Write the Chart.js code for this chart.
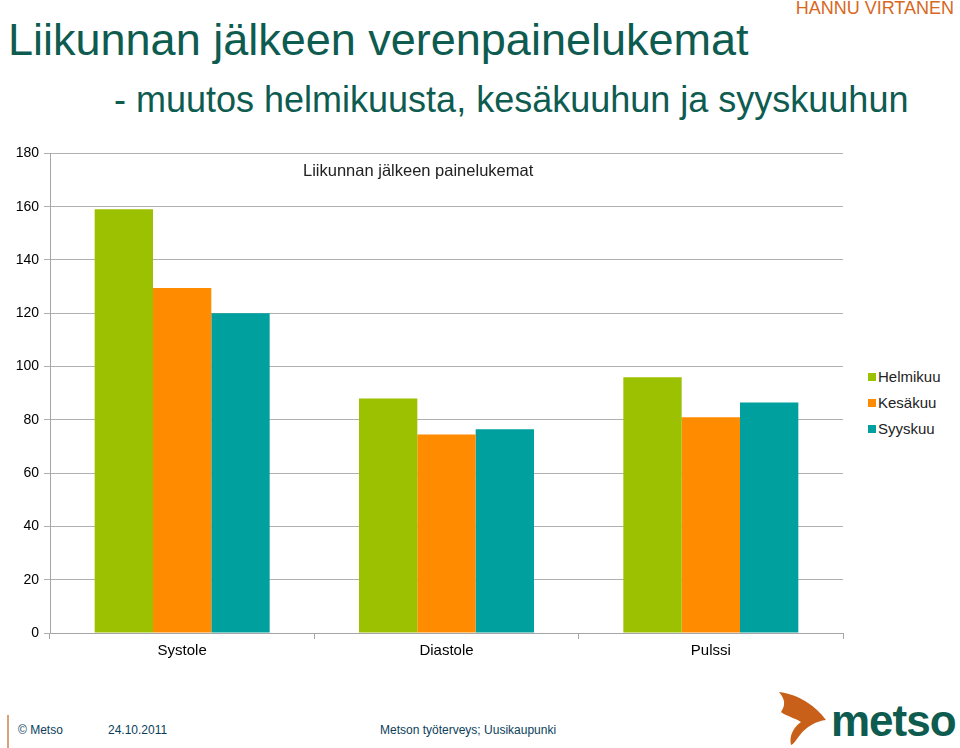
<!DOCTYPE html>
<html>
<head>
<meta charset="utf-8">
<script src="https://cdn.jsdelivr.net/npm/chart.js@4"></script>
<style>
  body { margin: 0; background: #fff; font-family: "Liberation Sans", Arial, sans-serif; }
  #page { position: relative; width: 960px; height: 748px; overflow: hidden; }
  .abs { position: absolute; white-space: nowrap; }
  #title { left: 8px; top: 14px; font-size: 45px; color: #0e5b50; }
  #subtitle { left: 114px; top: 79px; font-size: 36px; color: #0e5b50; }
  #author { right: 6px; top: -2px; font-size: 18px; color: #d8681e; }
  #chartTitle { left: 303px; top: 161px; font-size: 16.5px; color: #222; }
  #chart { position: absolute; left: 0; top: 140px; }
  #legend { left: 868px; top: 367px; font-size: 15px; color: #222; }
  #legend div { height: 26px; line-height: 20px; }
  #legend span.box { display: inline-block; width: 8px; height: 8px; margin-right: 2px; vertical-align: 1px; }
  .foot { top: 723px; font-size: 12px; color: #0b3e5a; }
  #footline { left: 7px; top: 715px; width: 2px; height: 33px; background: #d9a07c; }
  #logoText { left: 831px; top: 696px; font-size: 44px; font-weight: bold; color: #0e5b50; letter-spacing: -1px; }
</style>
</head>
<body>
<div id="page">
  <div id="title" class="abs">Liikunnan jälkeen verenpainelukemat</div>
  <div id="subtitle" class="abs">- muutos helmikuusta, kesäkuuhun ja syyskuuhun</div>
  <div id="author" class="abs">HANNU VIRTANEN</div>
  <canvas id="chart" width="850" height="530"></canvas>
  <div id="chartTitle" class="abs">Liikunnan jälkeen painelukemat</div>
  <div id="legend" class="abs"></div>
  <div id="footline" class="abs"></div>
  <div class="abs foot" style="left:18px">© Metso</div>
  <div class="abs foot" style="left:108px">24.10.2011</div>
  <div class="abs foot" style="left:380px">Metson työterveys; Uusikaupunki</div>
  <svg class="abs" style="left:776px;top:690px" width="54" height="56" viewBox="0 0 54 56">
    <path d="M3 2 C22 4 40 16 50 30 C40 31 30 37 24 45 C20 50 18 54 15 55 C13 46 17 38 25 32 C19 28 10 26 5 22 C9 16 10 10 3 2 Z" fill="#c8601a"/>
  </svg>
  <div id="logoText" class="abs">metso</div>
</div>
<script>
const categories = ["Systole", "Diastole", "Pulssi"];
const seriesNames = ["Helmikuu", "Kesäkuu", "Syyskuu"];
const helmikuu = [159, 88, 96];
const kesakuu = [129.5, 74.5, 81];
const syyskuu = [120, 76.5, 86.5];
const yTicks = [0, 20, 40, 60, 80, 100, 120, 140, 160, 180];
const colors = ["#9bc100", "#ff8c00", "#00a09e"];

const values = [helmikuu, kesakuu, syyskuu];

// legend as plain html
const legendEl = document.getElementById("legend");
seriesNames.forEach((name, i) => {
  const row = document.createElement("div");
  row.innerHTML = `<span class="box" style="background:${colors[i]}"></span>${name}`;
  legendEl.appendChild(row);
});

const ctx = document.getElementById("chart");
new Chart(ctx, {
  type: "bar",
  data: {
    labels: categories,
    datasets: seriesNames.map((name, i) => ({
      label: name,
      data: values[i],
      backgroundColor: colors[i],
      borderWidth: 0,
      categoryPercentage: 0.662,
      barPercentage: 1.0,
    })),
  },
  options: {
    responsive: false,
    animation: false,
    devicePixelRatio: 1,
    layout: { padding: { top: 12, right: 7, left: 0, bottom: 0 } },
    plugins: {
      legend: { display: false },
      tooltip: { enabled: false },
    },
    scales: {
      x: {
        grid: { display: true, drawOnChartArea: false, offset: true, tickLength: 6, color: "#a6a6a6" },
        border: { color: "#a6a6a6" },
        ticks: { color: "#000", font: { family: "Liberation Sans", size: 15 }, padding: 3 },
        afterFit: (scale) => { scale.height = 37; },
      },
      y: {
        min: 0,
        max: 180,
        afterBuildTicks: (scale) => { scale.ticks = yTicks.map((v) => ({ value: v })); },
        grid: { color: "#b0b0b0", tickLength: 6 },
        border: { color: "#a6a6a6" },
        ticks: { color: "#000", font: { family: "Liberation Sans", size: 14 }, padding: 5 },
        afterFit: (scale) => { scale.width = 50; },
      },
    },
  },
});
</script>
</body>
</html>
